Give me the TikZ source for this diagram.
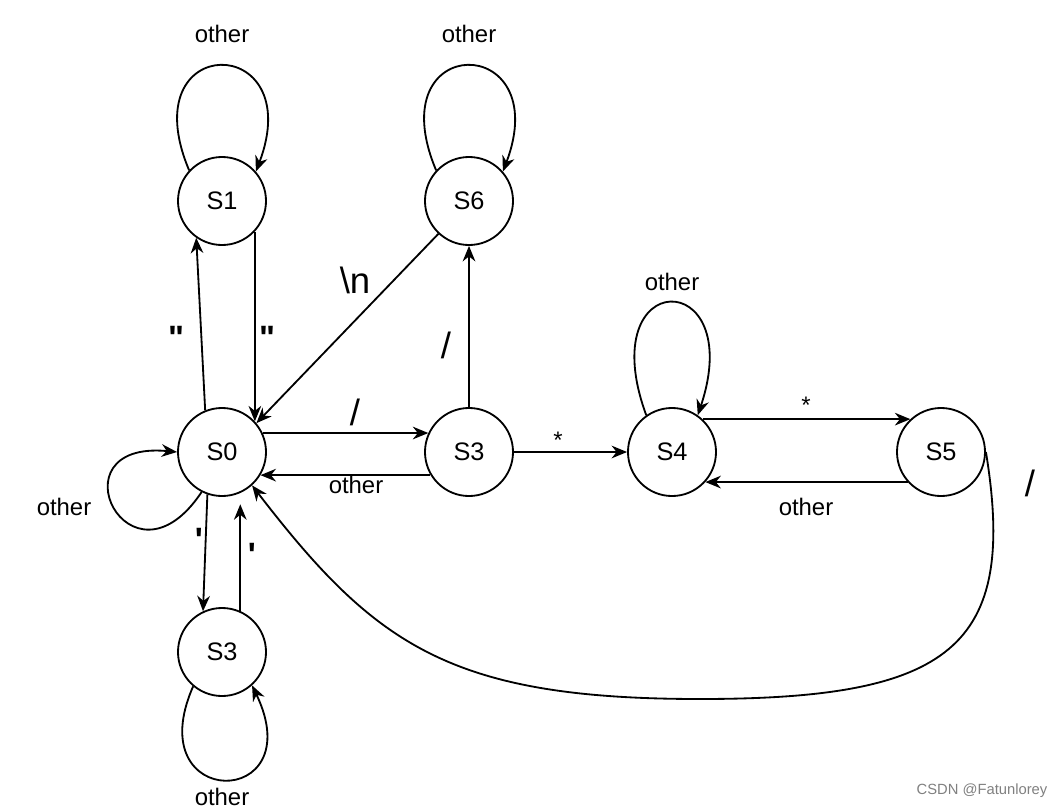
\documentclass[tikz,border=0pt]{standalone}
\usepackage{fontspec}
\setmainfont{Liberation Sans}
\usetikzlibrary{arrows.meta}
\definecolor{markgray}{RGB}{128,128,128}

\tikzset{
  state/.style={circle,draw,line width=1.3pt,minimum size=2.2cm,inner sep=0pt,font=\fontsize{18}{20}\selectfont},
  trans/.style={line width=1.3pt,-{Stealth[length=11pt,width=9pt]}},
  lbl/.style={font=\fontsize{17}{20}\selectfont},
  sym/.style={font=\fontsize{26}{28}\selectfont},
  quote/.style={font=\fontsize{24}{26}\selectfont\bfseries}
}

\begin{document}
\begin{tikzpicture}[x=0.025cm,y=-0.025cm]
\useasboundingbox (0,0) rectangle (1064,809);

% States
\node[state] (S1) at (222,201) {S1};
\node[state] (S6) at (469,201) {S6};
\node[state] (S0) at (222,452) {S0};
\node[state] (S3m) at (469,452) {S3};
\node[state] (S4) at (672,452) {S4};
\node[state] (S5) at (941,452) {S5};
\node[state] (S3b) at (222,652) {S3};

% Self loops
\draw[trans] (S1.137) .. controls +(-59,-140) and +(53,-140) .. (S1.41);
\draw[trans] (S6.137) .. controls +(-59,-140) and +(53,-140) .. (S6.41);
\draw[trans] (S4.125) .. controls +(-55,-150) and +(50,-150) .. (S4.55);
\draw[trans] (S0.243) .. controls +(-72,108) and +(-127,-12) .. (S0.west);
\draw[trans] (S3b.-130) .. controls +(-55,125) and +(60,125) .. (S3b.-48);

% Transitions
\draw[trans] (S0.112) -- (S1.235);
\draw[trans] (S1.-43) -- (S0.43);
\draw[trans] (S6.227) -- (S0.40);
\draw[trans] (S3m.north) -- (S6.south);
\draw[trans] (S0.25) -- (S3m.155);
\draw[trans] (S3m.211) -- (S0.-31);
\draw[trans] (S3m.east) -- (S4.west);
\draw[trans] (S4.47) -- (S5.133);
\draw[trans] (S5.222) -- (S4.-42);
\draw[trans] (S0.-109) -- (S3b.115);
\draw[trans,shorten >=8pt] (S3b.66) -- (S0.-66);

% Back edge S5 -> S0
\draw[trans] (S5.east) .. controls (1018,648) and (950,699) .. (700,699)
  .. controls (450,699) and (375,645) .. (S0.-48);

% Labels
\node[lbl] at (222,34) {other};
\node[lbl] at (469,34) {other};
\node[lbl] at (672,282) {other};
\node[lbl] at (64,507) {other};
\node[lbl] at (356,485) {other};
\node[lbl] at (806,507) {other};
\node[lbl] at (222,797) {other};
\node[sym] at (355,280) {\textbackslash n};
\node[sym] at (446,345) {/};
\node[sym] at (355,412) {/};
\node[sym] at (1030,483) {/};
\node[lbl] at (558,440) {*};
\node[lbl] at (806,405) {*};
\node[quote] at (176,338) {\textquotedbl};
\node[quote] at (267,338) {\textquotedbl};
\node[quote] at (199,540) {\textquotesingle};
\node[quote] at (252,555) {\textquotesingle};

% Watermark
\node[font=\fontsize{10.5}{12}\selectfont,text=markgray] at (982,791) {CSDN @Fatunlorey};

\end{tikzpicture}
\end{document}
